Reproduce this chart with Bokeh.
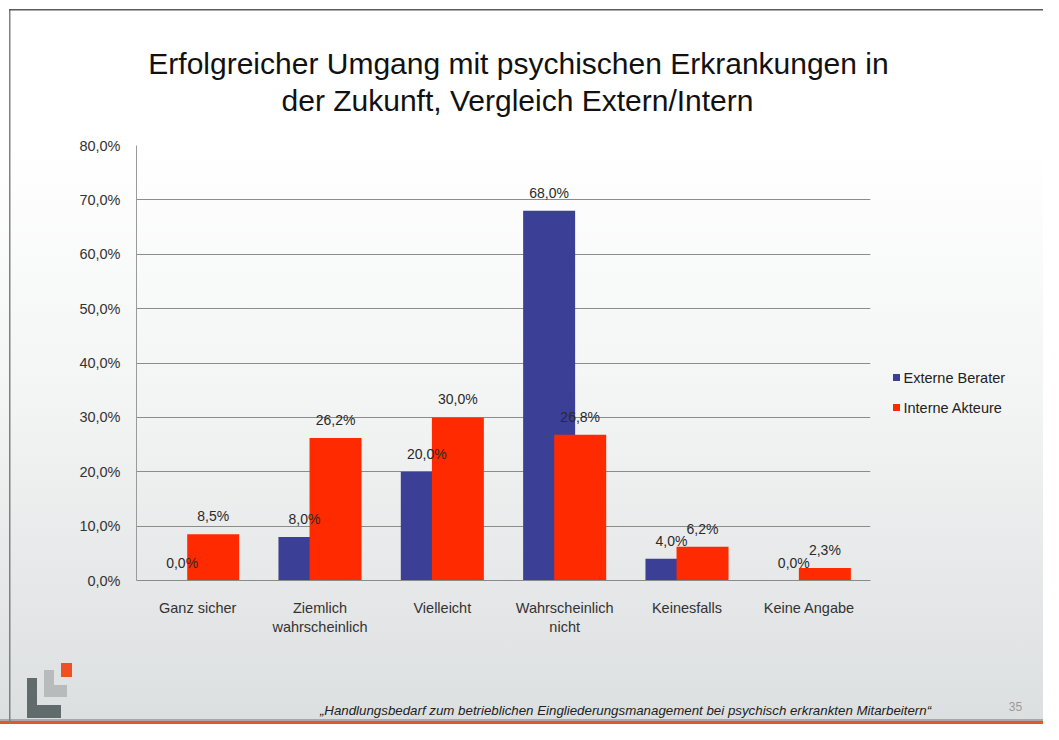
from bokeh.plotting import figure
from bokeh.models import (ColumnDataSource, FactorRange, Label, FixedTicker)
from bokeh.core.properties import value
from bokeh.transform import dodge
from bokeh.embed import file_html
from bokeh.resources import INLINE

# ---------------- data ----------------
categories = ["Ganz sicher", "Ziemlich\nwahrscheinlich", "Vielleicht",
              "Wahrscheinlich\nnicht", "Keinesfalls", "Keine Angabe"]
externe_berater = [0.0, 8.0, 20.0, 68.0, 4.0, 0.0]
interne_akteure = [8.5, 26.2, 30.0, 26.8, 6.2, 2.3]
series_names = ["Externe Berater", "Interne Akteure"]
y_ticks = [0, 10, 20, 30, 40, 50, 60, 70, 80]
y_tick_labels = ["0,0%", "10,0%", "20,0%", "30,0%", "40,0%", "50,0%", "60,0%", "70,0%", "80,0%"]
title_lines = ["Erfolgreicher Umgang mit psychischen Erkrankungen in",
               "der Zukunft, Vergleich Extern/Intern"]
footer_text = "\u201eHandlungsbedarf zum betrieblichen Eingliederungsmanagement bei psychisch erkrankten Mitarbeitern\u201c"
page_number = "35"

def fmt(v):
    return ("%.1f" % v).replace(".", ",") + "%"

source = ColumnDataSource(dict(
    cat=categories,
    ext=externe_berater,
    int_=interne_akteure,
    ext_lbl=[fmt(v) for v in externe_berater],
    int_lbl=[fmt(v) for v in interne_akteure],
))

FONT = "Liberation Sans"
W, H = 1043, 724
BLUE = "#3b3f96"
RED = "#ff2a00"

# slide decoration (background gradient, frame lines, logo, legend keys) as CSS layers
def layer(color, x, y, w, h):
    return ("linear-gradient(%s,%s)" % (color, color), "%s %s" % (x, y), "%s %s" % (w, h))

layers = [
    layer(BLUE, "893px", "374px", "7px", "7px"),
    layer(RED, "893px", "404px", "7px", "7px"),
    layer("#f04e23", "61px", "663px", "11px", "14px"),
    layer("#626b6c", "27px", "678px", "10px", "40px"),
    layer("#626b6c", "27px", "705px", "34px", "13px"),
    layer("#b8bbbc", "44px", "670px", "10px", "27px"),
    layer("#b8bbbc", "44px", "685px", "23px", "12px"),
    layer("#5a5a5a", "9px", "9px", "100%", "1.5px"),
    layer("#808080", "9px", "9px", "1.5px", "100%"),
    layer("#e0592a", "0px", "721px", "100%", "3px"),
    layer("#a8a8a8", "0px", "719px", "100%", "2px"),
    ("linear-gradient(to bottom, #ffffff 0px, #ffffff 150px, #f3f4f4 400px, #dcdfe0 724px)", "0px 0px", "100% 100%"),
]
styles = {
    "background-image": ", ".join(l[0] for l in layers),
    "background-position": ", ".join(l[1] for l in layers),
    "background-size": ", ".join(l[2] for l in layers),
    "background-repeat": "no-repeat",
}

p = figure(width=W, height=H, x_range=FactorRange(*categories), y_range=(0, 80),
           output_backend="svg", toolbar_location=None,
           min_border_left=136, min_border_right=173, min_border_top=145, min_border_bottom=144,
           styles=styles)
p.border_fill_alpha = 0
p.background_fill_alpha = 0
p.outline_line_color = None

# bars
r_ext = p.vbar(x=dodge("cat", -0.127, range=p.x_range), top="ext", width=0.425, source=source,
               fill_color=BLUE, line_color=None)
r_int = p.vbar(x=dodge("cat", 0.127, range=p.x_range), top="int_", width=0.425, source=source,
               fill_color=RED, line_color=None)

# value labels
p.text(x=dodge("cat", -0.127, range=p.x_range), y="ext", text="ext_lbl", source=source,
       text_align="center", text_baseline="middle", y_offset=-18,
       text_font=value(FONT), text_font_size="14px", text_color="#2a2a2a")
p.text(x=dodge("cat", 0.127, range=p.x_range), y="int_", text="int_lbl", source=source,
       text_align="center", text_baseline="middle", y_offset=-18,
       text_font=value(FONT), text_font_size="14px", text_color="#2a2a2a")

# axes
p.yaxis.ticker = FixedTicker(ticks=y_ticks)
p.yaxis.major_label_overrides = {t: l for t, l in zip(y_ticks, y_tick_labels)}
p.yaxis.major_label_text_font = FONT
p.yaxis.major_label_text_font_size = "14.5px"
p.yaxis.major_label_text_color = "#333333"
p.yaxis.major_label_standoff = 10
p.yaxis.axis_line_color = "#9a9a9a"
p.yaxis.major_tick_line_color = None
p.yaxis.minor_tick_line_color = None

p.xaxis.major_label_text_font = FONT
p.xaxis.major_label_text_font_size = "14.5px"
p.xaxis.major_label_text_color = "#333333"
p.xaxis.major_label_standoff = 13
p.xaxis.axis_line_color = "#8a8a8a"
p.xaxis.major_tick_line_color = None
p.xaxis.minor_tick_line_color = None
p.x_range.range_padding = 0

p.xgrid.grid_line_color = None
p.ygrid.grid_line_color = "#8c8c8c"
p.ygrid.grid_line_width = 1
p.ygrid.ticker = FixedTicker(ticks=y_ticks)

# texts placed in canvas pixels
def canvas_label(x, y, text, size, color, align="left", style="normal", place="below"):
    p.add_layout(Label(x=x, y=y, x_units="canvas", y_units="canvas", text=text,
                       text_align=align, text_baseline="middle", text_font=FONT,
                       text_font_style=style, text_font_size=size, text_color=color), place)

# title (two centred lines)
canvas_label(518, 63, title_lines[0], "30px", "#111111", align="center", place="above")
canvas_label(517, 100, title_lines[1], "30px", "#111111", align="center", place="above")

# legend texts, footer, page number
canvas_label(903, 377, series_names[0], "14.5px", "#222222")
canvas_label(903, 407, series_names[1], "14.5px", "#222222")
canvas_label(625, 710, footer_text, "13.3px", "#222222", align="center", style="italic")
canvas_label(1015, 706, page_number, "12px", "#9a9a9a", align="center")

open("out.html", "w").write(file_html(p, INLINE))
